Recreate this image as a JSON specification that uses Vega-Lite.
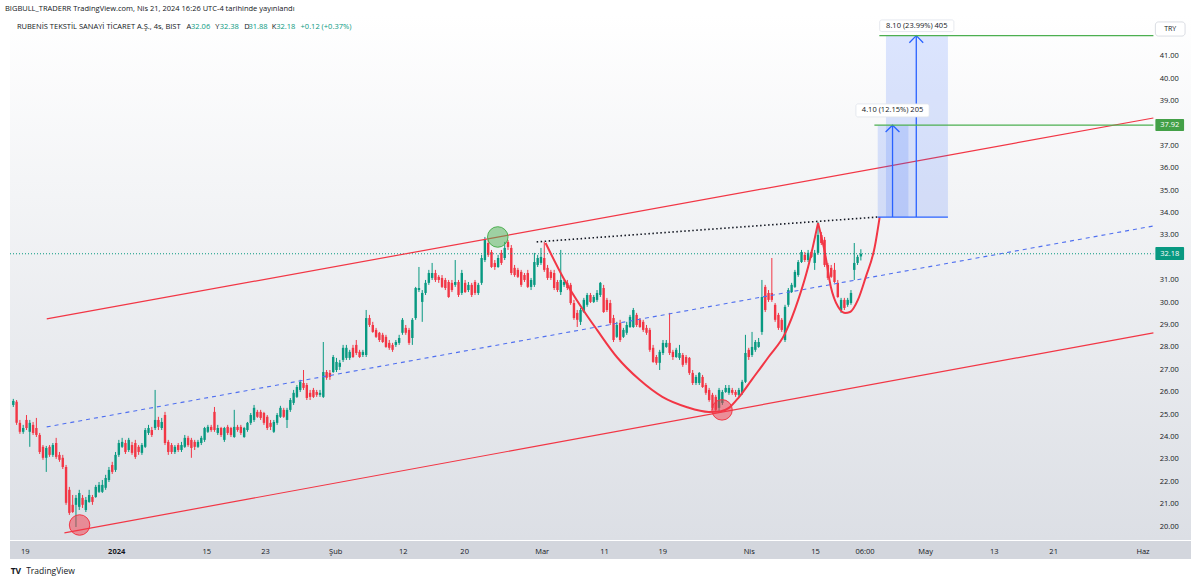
{
"$schema": "https://vega.github.io/schema/vega-lite/v6.json",
"width": 1191, "height": 525,
"autosize": {"type": "none"},
"padding": {"left": 5, "top": 15, "right": 4, "bottom": 43},
"background": "#ffffff",
"config": {
  "view": {"stroke": null},
  "font": "Open Sans",
  "axisY": {"labels": false, "ticks": false, "domain": false, "grid": false}
},
"title": {"text": "BIGBULL_TRADERR TradingView.com, Nis 21, 2024 16:26 UTC-4 tarihinde yayınlandı", "anchor": "start", "frame": "group", "fontSize": 7.5, "fontWeight": "normal", "color": "#131722", "offset": 3, "font": "Open Sans"},
"datasets": {
"one": [{}],
"yticks": [{"v":20},{"v":21},{"v":22},{"v":23},{"v":24},{"v":25},{"v":26},{"v":27},{"v":28},{"v":29},{"v":30},{"v":31},{"v":33},{"v":34},{"v":35},{"v":36},{"v":37},{"v":39},{"v":40},{"v":41}],
"candles": [
{"i":0,"o":25.43,"h":25.70,"l":25.34,"c":25.61},
{"i":1,"o":25.57,"h":25.65,"l":24.54,"c":24.63},
{"i":2,"o":24.63,"h":24.76,"l":24.14,"c":24.23},
{"i":3,"o":24.23,"h":24.54,"l":24.14,"c":24.40},
{"i":4,"o":24.76,"h":24.98,"l":24.31,"c":24.40},
{"i":5,"o":24.23,"h":24.76,"l":23.56,"c":24.63},
{"i":6,"o":24.54,"h":24.67,"l":24.09,"c":24.18},
{"i":7,"o":24.40,"h":24.85,"l":24.00,"c":24.09},
{"i":8,"o":24.09,"h":24.18,"l":23.24,"c":23.33},
{"i":9,"o":23.56,"h":23.64,"l":22.98,"c":23.07},
{"i":10,"o":23.07,"h":23.60,"l":22.44,"c":23.51},
{"i":11,"o":23.56,"h":23.64,"l":23.11,"c":23.20},
{"i":12,"o":23.20,"h":23.73,"l":23.11,"c":23.64},
{"i":13,"o":23.73,"h":23.96,"l":23.02,"c":23.11},
{"i":14,"o":23.20,"h":23.33,"l":22.89,"c":22.98},
{"i":15,"o":23.07,"h":23.20,"l":22.57,"c":22.66},
{"i":16,"o":22.66,"h":22.75,"l":20.97,"c":21.06},
{"i":17,"o":21.64,"h":21.77,"l":20.52,"c":20.61},
{"i":18,"o":20.97,"h":21.41,"l":20.61,"c":20.65},
{"i":19,"o":20.97,"h":21.41,"l":19.98,"c":21.28},
{"i":20,"o":20.88,"h":21.64,"l":20.74,"c":21.50},
{"i":21,"o":21.28,"h":21.41,"l":20.83,"c":20.97},
{"i":22,"o":20.74,"h":21.32,"l":20.65,"c":21.19},
{"i":23,"o":21.10,"h":21.64,"l":21.06,"c":21.41},
{"i":24,"o":21.32,"h":21.41,"l":20.97,"c":21.10},
{"i":25,"o":21.32,"h":21.86,"l":21.28,"c":21.77},
{"i":26,"o":21.55,"h":21.99,"l":21.50,"c":21.86},
{"i":27,"o":21.55,"h":22.08,"l":21.50,"c":21.86},
{"i":28,"o":21.73,"h":22.31,"l":21.64,"c":22.17},
{"i":29,"o":22.08,"h":22.66,"l":21.99,"c":22.53},
{"i":30,"o":22.75,"h":22.89,"l":22.35,"c":22.44},
{"i":31,"o":22.53,"h":23.33,"l":22.44,"c":23.20},
{"i":32,"o":23.20,"h":23.87,"l":23.11,"c":23.73},
{"i":33,"o":23.56,"h":23.96,"l":23.51,"c":23.78},
{"i":34,"o":23.73,"h":23.87,"l":23.24,"c":23.33},
{"i":35,"o":23.42,"h":23.96,"l":23.33,"c":23.87},
{"i":36,"o":23.64,"h":23.78,"l":23.20,"c":23.29},
{"i":37,"o":23.73,"h":23.87,"l":23.02,"c":23.11},
{"i":38,"o":23.56,"h":23.64,"l":23.20,"c":23.33},
{"i":39,"o":23.29,"h":23.73,"l":23.20,"c":23.64},
{"i":40,"o":23.56,"h":24.40,"l":23.51,"c":24.31},
{"i":41,"o":24.18,"h":24.54,"l":24.09,"c":24.40},
{"i":42,"o":24.31,"h":24.45,"l":24.00,"c":24.09},
{"i":43,"o":24.40,"h":26.10,"l":24.31,"c":24.76},
{"i":44,"o":24.76,"h":24.90,"l":24.31,"c":24.45},
{"i":45,"o":24.40,"h":24.85,"l":24.31,"c":24.67},
{"i":46,"o":24.98,"h":25.12,"l":23.64,"c":23.73},
{"i":47,"o":23.78,"h":23.87,"l":23.20,"c":23.33},
{"i":48,"o":23.64,"h":23.73,"l":23.24,"c":23.33},
{"i":49,"o":23.33,"h":23.64,"l":23.24,"c":23.56},
{"i":50,"o":23.64,"h":23.73,"l":23.33,"c":23.42},
{"i":51,"o":23.42,"h":23.78,"l":23.33,"c":23.64},
{"i":52,"o":23.56,"h":24.09,"l":23.51,"c":23.96},
{"i":53,"o":23.96,"h":24.05,"l":23.56,"c":23.64},
{"i":54,"o":23.87,"h":23.96,"l":23.07,"c":23.51},
{"i":55,"o":23.78,"h":23.87,"l":23.42,"c":23.56},
{"i":56,"o":23.56,"h":23.87,"l":23.51,"c":23.78},
{"i":57,"o":23.73,"h":24.05,"l":23.64,"c":23.96},
{"i":58,"o":23.87,"h":24.45,"l":23.78,"c":24.40},
{"i":59,"o":24.23,"h":24.54,"l":24.18,"c":24.45},
{"i":60,"o":24.45,"h":24.54,"l":24.23,"c":24.31},
{"i":61,"o":25.12,"h":25.34,"l":24.23,"c":24.31},
{"i":62,"o":24.18,"h":24.54,"l":24.09,"c":24.40},
{"i":63,"o":24.40,"h":24.45,"l":24.00,"c":24.09},
{"i":64,"o":23.87,"h":24.45,"l":23.78,"c":24.40},
{"i":65,"o":24.45,"h":24.54,"l":24.09,"c":24.18},
{"i":66,"o":24.40,"h":24.45,"l":24.00,"c":24.09},
{"i":67,"o":24.00,"h":25.21,"l":23.96,"c":24.45},
{"i":68,"o":24.45,"h":24.54,"l":24.23,"c":24.31},
{"i":69,"o":24.45,"h":24.54,"l":24.09,"c":24.18},
{"i":70,"o":24.00,"h":24.45,"l":23.96,"c":24.40},
{"i":71,"o":24.31,"h":24.67,"l":24.23,"c":24.63},
{"i":72,"o":24.63,"h":25.07,"l":24.54,"c":24.98},
{"i":73,"o":24.76,"h":25.43,"l":24.67,"c":25.30},
{"i":74,"o":25.12,"h":25.21,"l":24.85,"c":24.90},
{"i":75,"o":25.12,"h":25.21,"l":24.76,"c":24.85},
{"i":76,"o":25.07,"h":25.12,"l":24.54,"c":24.63},
{"i":77,"o":24.90,"h":24.98,"l":24.31,"c":24.40},
{"i":78,"o":24.63,"h":24.76,"l":24.31,"c":24.45},
{"i":79,"o":24.23,"h":24.76,"l":24.18,"c":24.67},
{"i":80,"o":24.63,"h":25.07,"l":24.54,"c":24.98},
{"i":81,"o":24.90,"h":25.39,"l":24.85,"c":25.30},
{"i":82,"o":25.21,"h":25.30,"l":24.85,"c":24.90},
{"i":83,"o":24.76,"h":25.30,"l":24.40,"c":25.21},
{"i":84,"o":25.21,"h":25.74,"l":25.12,"c":25.65},
{"i":85,"o":25.52,"h":26.10,"l":25.43,"c":25.97},
{"i":86,"o":25.79,"h":26.32,"l":25.74,"c":26.23},
{"i":87,"o":26.10,"h":26.55,"l":26.01,"c":26.46},
{"i":88,"o":26.41,"h":26.99,"l":26.10,"c":26.19},
{"i":89,"o":26.32,"h":26.41,"l":25.65,"c":25.74},
{"i":90,"o":25.97,"h":26.10,"l":25.65,"c":25.79},
{"i":91,"o":26.10,"h":26.19,"l":25.74,"c":25.79},
{"i":92,"o":26.01,"h":26.10,"l":25.79,"c":25.88},
{"i":93,"o":25.88,"h":26.10,"l":25.79,"c":25.97},
{"i":94,"o":25.79,"h":28.24,"l":25.74,"c":26.90},
{"i":95,"o":26.90,"h":26.99,"l":26.55,"c":26.64},
{"i":96,"o":26.86,"h":26.99,"l":26.55,"c":26.68},
{"i":97,"o":26.90,"h":27.66,"l":26.86,"c":27.57},
{"i":98,"o":26.99,"h":27.53,"l":26.90,"c":27.35},
{"i":99,"o":27.13,"h":27.44,"l":26.99,"c":27.31},
{"i":100,"o":27.44,"h":28.11,"l":27.35,"c":27.98},
{"i":101,"o":27.53,"h":28.11,"l":27.44,"c":27.98},
{"i":102,"o":27.53,"h":27.89,"l":27.44,"c":27.80},
{"i":103,"o":27.98,"h":28.11,"l":27.53,"c":27.57},
{"i":104,"o":28.11,"h":28.33,"l":27.66,"c":27.75},
{"i":105,"o":27.80,"h":27.89,"l":27.53,"c":27.57},
{"i":106,"o":27.66,"h":27.89,"l":27.57,"c":27.80},
{"i":107,"o":27.66,"h":29.67,"l":27.57,"c":29.31},
{"i":108,"o":29.31,"h":29.45,"l":28.91,"c":29.00},
{"i":109,"o":29.00,"h":29.14,"l":28.65,"c":28.69},
{"i":110,"o":28.78,"h":28.87,"l":28.42,"c":28.47},
{"i":111,"o":28.65,"h":28.69,"l":28.24,"c":28.33},
{"i":112,"o":28.56,"h":28.65,"l":28.20,"c":28.24},
{"i":113,"o":28.47,"h":28.56,"l":27.98,"c":28.02},
{"i":114,"o":28.20,"h":28.33,"l":27.89,"c":27.98},
{"i":115,"o":28.11,"h":28.20,"l":27.80,"c":27.89},
{"i":116,"o":28.11,"h":28.33,"l":28.02,"c":28.24},
{"i":117,"o":28.20,"h":28.56,"l":28.11,"c":28.42},
{"i":118,"o":28.65,"h":29.31,"l":28.56,"c":29.23},
{"i":119,"o":28.87,"h":29.00,"l":28.56,"c":28.65},
{"i":120,"o":28.78,"h":28.87,"l":28.11,"c":28.20},
{"i":121,"o":28.42,"h":29.31,"l":28.11,"c":29.23},
{"i":122,"o":29.31,"h":30.70,"l":29.23,"c":30.65},
{"i":123,"o":30.56,"h":31.59,"l":30.47,"c":30.65},
{"i":124,"o":30.03,"h":30.56,"l":29.14,"c":30.43},
{"i":125,"o":30.43,"h":31.01,"l":30.34,"c":30.88},
{"i":126,"o":30.88,"h":31.46,"l":30.79,"c":31.32},
{"i":127,"o":31.10,"h":31.77,"l":31.01,"c":31.32},
{"i":128,"o":31.32,"h":31.46,"l":30.92,"c":31.01},
{"i":129,"o":31.15,"h":31.23,"l":30.88,"c":31.01},
{"i":130,"o":31.10,"h":31.23,"l":30.65,"c":30.70},
{"i":131,"o":31.01,"h":31.10,"l":30.56,"c":30.65},
{"i":132,"o":30.92,"h":31.01,"l":30.21,"c":30.25},
{"i":133,"o":30.88,"h":31.01,"l":30.47,"c":30.56},
{"i":134,"o":30.79,"h":31.90,"l":30.70,"c":30.92},
{"i":135,"o":30.92,"h":31.01,"l":30.25,"c":30.34},
{"i":136,"o":30.43,"h":31.46,"l":30.34,"c":31.32},
{"i":137,"o":30.88,"h":31.01,"l":30.43,"c":30.47},
{"i":138,"o":30.56,"h":30.92,"l":30.47,"c":30.79},
{"i":139,"o":30.79,"h":30.88,"l":30.25,"c":30.34},
{"i":140,"o":30.92,"h":31.01,"l":30.34,"c":30.43},
{"i":141,"o":30.43,"h":30.88,"l":30.34,"c":30.79},
{"i":142,"o":30.88,"h":32.13,"l":30.79,"c":31.99},
{"i":143,"o":31.90,"h":32.93,"l":31.81,"c":32.80},
{"i":144,"o":32.66,"h":32.80,"l":32.04,"c":32.13},
{"i":145,"o":32.26,"h":32.35,"l":31.55,"c":31.59},
{"i":146,"o":31.77,"h":31.90,"l":31.46,"c":31.59},
{"i":147,"o":31.59,"h":32.13,"l":31.55,"c":31.99},
{"i":148,"o":32.22,"h":32.35,"l":31.68,"c":31.77},
{"i":149,"o":31.99,"h":32.71,"l":31.90,"c":32.44},
{"i":150,"o":32.71,"h":32.80,"l":32.35,"c":32.48},
{"i":151,"o":32.44,"h":32.57,"l":31.23,"c":31.32},
{"i":152,"o":31.55,"h":31.68,"l":31.15,"c":31.23},
{"i":153,"o":31.46,"h":31.55,"l":31.10,"c":31.15},
{"i":154,"o":31.37,"h":31.46,"l":30.70,"c":30.79},
{"i":155,"o":31.23,"h":31.32,"l":30.92,"c":31.01},
{"i":156,"o":31.32,"h":31.46,"l":30.65,"c":30.70},
{"i":157,"o":30.70,"h":31.10,"l":30.56,"c":31.01},
{"i":158,"o":30.79,"h":32.22,"l":30.70,"c":31.81},
{"i":159,"o":31.68,"h":32.13,"l":31.59,"c":31.99},
{"i":160,"o":31.77,"h":32.44,"l":31.68,"c":32.04},
{"i":161,"o":31.99,"h":32.71,"l":31.37,"c":31.46},
{"i":162,"o":31.55,"h":31.68,"l":31.01,"c":31.10},
{"i":163,"o":31.37,"h":31.46,"l":31.01,"c":31.10},
{"i":164,"o":31.32,"h":31.46,"l":30.56,"c":30.65},
{"i":165,"o":30.92,"h":31.01,"l":30.47,"c":30.56},
{"i":166,"o":30.47,"h":32.35,"l":30.34,"c":31.01},
{"i":167,"o":30.79,"h":31.01,"l":30.70,"c":30.92},
{"i":168,"o":30.88,"h":31.01,"l":30.56,"c":30.65},
{"i":169,"o":30.79,"h":30.88,"l":29.90,"c":29.98},
{"i":170,"o":29.98,"h":30.12,"l":29.23,"c":29.31},
{"i":171,"o":29.54,"h":29.67,"l":28.91,"c":29.23},
{"i":172,"o":29.14,"h":29.76,"l":29.00,"c":29.67},
{"i":173,"o":29.58,"h":30.21,"l":29.54,"c":30.12},
{"i":174,"o":29.90,"h":30.43,"l":29.81,"c":30.34},
{"i":175,"o":30.34,"h":30.43,"l":29.98,"c":30.03},
{"i":176,"o":30.03,"h":30.34,"l":29.98,"c":30.25},
{"i":177,"o":30.12,"h":30.56,"l":30.03,"c":30.43},
{"i":178,"o":30.34,"h":30.92,"l":30.25,"c":30.88},
{"i":179,"o":30.65,"h":30.79,"l":29.54,"c":29.58},
{"i":180,"o":30.12,"h":30.21,"l":29.58,"c":29.67},
{"i":181,"o":29.98,"h":30.12,"l":29.00,"c":29.09},
{"i":182,"o":29.31,"h":29.45,"l":28.24,"c":28.33},
{"i":183,"o":28.47,"h":29.14,"l":28.42,"c":29.00},
{"i":184,"o":29.09,"h":29.23,"l":28.24,"c":28.33},
{"i":185,"o":28.47,"h":28.87,"l":28.42,"c":28.78},
{"i":186,"o":28.65,"h":29.14,"l":28.56,"c":29.00},
{"i":187,"o":28.91,"h":29.45,"l":28.87,"c":29.36},
{"i":188,"o":28.91,"h":29.76,"l":28.87,"c":29.67},
{"i":189,"o":29.45,"h":29.54,"l":28.91,"c":29.00},
{"i":190,"o":29.23,"h":29.31,"l":28.87,"c":28.91},
{"i":191,"o":29.14,"h":29.23,"l":28.69,"c":28.78},
{"i":192,"o":28.87,"h":29.00,"l":28.56,"c":28.65},
{"i":193,"o":28.78,"h":28.87,"l":27.80,"c":27.89},
{"i":194,"o":27.98,"h":28.11,"l":27.31,"c":27.35},
{"i":195,"o":27.57,"h":27.66,"l":27.22,"c":27.31},
{"i":196,"o":27.31,"h":27.89,"l":26.99,"c":27.80},
{"i":197,"o":27.75,"h":28.33,"l":27.66,"c":28.20},
{"i":198,"o":28.02,"h":28.33,"l":27.98,"c":28.20},
{"i":199,"o":28.20,"h":29.54,"l":27.66,"c":27.75},
{"i":200,"o":27.80,"h":27.89,"l":27.44,"c":27.57},
{"i":201,"o":27.57,"h":27.98,"l":27.53,"c":27.89},
{"i":202,"o":27.53,"h":28.11,"l":27.44,"c":27.75},
{"i":203,"o":27.66,"h":27.75,"l":27.13,"c":27.22},
{"i":204,"o":27.57,"h":27.66,"l":27.22,"c":27.31},
{"i":205,"o":27.53,"h":27.57,"l":26.77,"c":26.86},
{"i":206,"o":26.86,"h":26.99,"l":26.32,"c":26.41},
{"i":207,"o":26.41,"h":26.77,"l":26.32,"c":26.68},
{"i":208,"o":26.41,"h":26.90,"l":26.32,"c":26.86},
{"i":209,"o":26.68,"h":26.77,"l":26.19,"c":26.23},
{"i":210,"o":26.32,"h":26.41,"l":25.88,"c":25.97},
{"i":211,"o":26.10,"h":26.19,"l":25.57,"c":25.65},
{"i":212,"o":25.88,"h":25.97,"l":25.21,"c":25.30},
{"i":213,"o":25.79,"h":25.88,"l":25.12,"c":25.21},
{"i":214,"o":25.30,"h":26.19,"l":25.07,"c":26.10},
{"i":215,"o":25.52,"h":26.10,"l":25.43,"c":26.01},
{"i":216,"o":26.01,"h":26.32,"l":25.97,"c":26.19},
{"i":217,"o":25.97,"h":26.32,"l":25.88,"c":26.19},
{"i":218,"o":26.10,"h":26.19,"l":25.88,"c":25.97},
{"i":219,"o":26.01,"h":26.10,"l":25.79,"c":25.88},
{"i":220,"o":25.88,"h":26.19,"l":25.79,"c":26.10},
{"i":221,"o":25.97,"h":26.55,"l":25.88,"c":26.46},
{"i":222,"o":26.46,"h":28.56,"l":26.41,"c":27.75},
{"i":223,"o":27.89,"h":27.98,"l":27.44,"c":27.57},
{"i":224,"o":27.66,"h":28.69,"l":27.57,"c":28.02},
{"i":225,"o":27.89,"h":28.33,"l":27.80,"c":28.24},
{"i":226,"o":28.02,"h":28.42,"l":27.98,"c":28.24},
{"i":227,"o":28.69,"h":31.01,"l":28.56,"c":30.25},
{"i":228,"o":30.70,"h":30.79,"l":29.58,"c":29.67},
{"i":229,"o":30.43,"h":30.56,"l":30.03,"c":30.12},
{"i":230,"o":30.43,"h":31.99,"l":30.03,"c":30.12},
{"i":231,"o":29.90,"h":29.98,"l":29.14,"c":29.23},
{"i":232,"o":29.45,"h":29.54,"l":28.78,"c":28.87},
{"i":233,"o":29.23,"h":29.31,"l":28.69,"c":28.78},
{"i":234,"o":28.33,"h":29.90,"l":28.24,"c":29.81},
{"i":235,"o":29.90,"h":30.65,"l":29.81,"c":30.56},
{"i":236,"o":30.47,"h":30.88,"l":30.43,"c":30.79},
{"i":237,"o":30.70,"h":31.46,"l":30.65,"c":31.37},
{"i":238,"o":31.23,"h":31.90,"l":31.15,"c":31.81},
{"i":239,"o":31.81,"h":32.35,"l":31.77,"c":32.26},
{"i":240,"o":32.13,"h":32.26,"l":31.81,"c":31.90},
{"i":241,"o":31.90,"h":32.35,"l":31.81,"c":32.22},
{"i":242,"o":32.26,"h":32.35,"l":31.99,"c":32.04},
{"i":243,"o":31.77,"h":32.35,"l":31.46,"c":32.22},
{"i":244,"o":32.22,"h":33.60,"l":32.13,"c":33.02},
{"i":245,"o":33.02,"h":33.15,"l":32.57,"c":32.66},
{"i":246,"o":32.80,"h":32.93,"l":31.59,"c":31.68},
{"i":247,"o":31.68,"h":31.77,"l":31.01,"c":31.10},
{"i":248,"o":31.55,"h":31.68,"l":31.10,"c":31.15},
{"i":249,"o":31.46,"h":31.77,"l":30.88,"c":30.92},
{"i":250,"o":30.88,"h":31.01,"l":30.21,"c":30.25},
{"i":251,"o":29.67,"h":30.21,"l":29.54,"c":30.12},
{"i":252,"o":30.12,"h":30.21,"l":29.67,"c":29.76},
{"i":253,"o":29.90,"h":30.21,"l":29.81,"c":30.12},
{"i":254,"o":29.98,"h":30.56,"l":29.90,"c":30.43},
{"i":255,"o":31.46,"h":32.66,"l":31.01,"c":31.77},
{"i":256,"o":31.77,"h":32.13,"l":31.68,"c":32.04},
{"i":257,"o":32.06,"h":32.38,"l":31.88,"c":32.18}
],
"channel": [
{"id":"u","i":10.13,"p":29.27},{"id":"u","i":345.7,"p":38.24},
{"id":"l","i":15.5,"p":19.72},{"id":"l","i":345.7,"p":28.65}
],
"mid": [{"i":10.13,"p":24.45},{"i":345.7,"p":33.42}],
"neck": [{"i":158.7,"p":32.71},{"i":262.1,"p":33.82}],
"cup": [
{"s":"c","i":161.4,"p":32.66},{"s":"c","i":166.8,"p":31.10},{"s":"c","i":172.8,"p":29.67},{"s":"c","i":177.0,"p":28.78},
{"s":"c","i":183.0,"p":27.57},{"s":"c","i":189.9,"p":26.55},{"s":"c","i":196.8,"p":25.79},{"s":"c","i":204.1,"p":25.34},
{"s":"c","i":210.9,"p":25.12},{"s":"c","i":214.3,"p":25.14},{"s":"c","i":217.0,"p":25.30},{"s":"c","i":220.0,"p":25.77},
{"s":"c","i":223.9,"p":26.55},{"s":"c","i":229.0,"p":27.57},{"s":"c","i":234.1,"p":28.65},{"s":"c","i":238.0,"p":30.12},
{"s":"c","i":241.0,"p":31.59},{"s":"c","i":244.0,"p":33.55},
{"s":"h","i":244.0,"p":33.55},{"s":"h","i":246.1,"p":32.22},{"s":"h","i":247.9,"p":30.70},{"s":"h","i":250.1,"p":29.81},
{"s":"h","i":252.2,"p":29.54},{"s":"h","i":253.7,"p":29.58},{"s":"h","i":256.1,"p":30.12},{"s":"h","i":258.5,"p":31.15},
{"s":"h","i":261.2,"p":32.48},{"s":"h","i":262.7,"p":33.82}
],
"circles": [{"k":"g","i":146.9,"p":32.93},{"k":"r","i":20.1,"p":20.07},{"k":"r","i":214.9,"p":25.21}],
"ranges": [{"i1":264.6,"i2":283.4,"p1":33.82,"p2":41.92},{"i1":262.1,"i2":271.4,"p1":33.82,"p2":37.92}],
"bluerules": [{"i1":262.1,"i2":283.4,"p1":33.82,"p2":33.82},{"i1":266.6,"i2":266.6,"p1":33.82,"p2":37.92},{"i1":273.8,"i2":273.8,"p1":33.82,"p2":41.92}],
"heads": [{"a":1,"i":264.5,"p":37.62},{"a":1,"i":266.6,"p":37.92},{"a":1,"i":268.7,"p":37.62},{"a":2,"i":271.7,"p":41.60},{"a":2,"i":273.8,"p":41.92},{"a":2,"i":275.9,"p":41.60}],
"targets": [{"i1":262.6,"i2":345.7,"p":41.92},{"i1":261.1,"i2":345.7,"p":37.92}],
"rangelabels": [{"t":"8.10 (23.99%) 405","i1":262.7,"i2":285.2,"p1":42.10,"p2":42.62,"im":273.95,"pm":42.36},{"t":"4.10 (12.15%) 205","i1":255.5,"i2":277.7,"p1":38.29,"p2":38.87,"im":266.6,"pm":38.58}],
"pricetags": [{"t":"37.92","p":37.92,"p1":37.66,"p2":38.20},{"t":"32.18","p":32.18,"p1":31.90,"p2":32.48}]
},
"layer": [
{"data": {"name": "one"}, "mark": {"type": "rect", "color": {"gradient": "linear", "x1": 0, "y1": 0, "x2": 0, "y2": 1, "stops": [{"offset": 0, "color": "#ffffff"}, {"offset": 1, "color": "#dcdfe5"}]}},
 "encoding": {"x": {"datum": -1, "type": "quantitative", "scale": {"domain": [-1, 357.1], "nice": false, "zero": false},
   "axis": {"orient": "bottom", "title": null, "zindex": 1,
     "values": [3.5,31.2,58.5,76.3,97.6,118.1,136.7,160.2,179.1,196.8,223,243.1,258.1,276.5,297.3,315.3,342.4],
     "labelExpr": "['19','2024','15','23','Şub','12','20','Mar','11','19','Nis','15','06:00','May','13','21','Haz'][indexof([3.5,31.2,58.5,76.3,97.6,118.1,136.7,160.2,179.1,196.8,223,243.1,258.1,276.5,297.3,315.3,342.4], datum.value)]",
     "ticks": false, "grid": false, "domain": false, "labelPadding": 11, "labelBaseline": "middle", "labelFontSize": 7.5, "labelColor": "#131722", "labelOverlap": false, "labelFlush": false, "labelBound": false,
     "labelFontWeight": {"condition": {"test": "datum.value == 31.2", "value": "bold"}, "value": "normal"}}},
   "x2": {"datum": 357.1},
   "y": {"datum": 19.40, "type": "quantitative", "scale": {"domain": [19.40, 42.84], "nice": false, "zero": false},
   "axis": {"orient": "right", "title": null, "labels": false, "ticks": false, "grid": false, "domain": false}},
   "y2": {"datum": 42.84}}},
{"data": {"name": "one"}, "mark": {"type": "rect", "color": "#d3d6dd"},
 "encoding": {"x": {"datum": -1, "type": "quantitative"}, "x2": {"datum": 357.1}, "y": {"datum": 19.36, "type": "quantitative"}, "y2": {"datum": 18.55}}},
{"data": {"name": "yticks"}, "mark": {"type": "text", "fontSize": 7.5, "color": "#131722", "font": "Open Sans", "align": "left", "baseline": "middle"},
 "encoding": {"x": {"datum": 347.6, "type": "quantitative"}, "y": {"field": "v", "type": "quantitative"}, "text": {"field": "v", "type": "quantitative", "format": ".2f"}}},
{"data": {"name": "candles"}, "mark": {"type": "rule", "strokeWidth": 1},
 "encoding": {"x": {"field": "i", "type": "quantitative"}, "y": {"field": "l", "type": "quantitative"}, "y2": {"field": "h"},
   "color": {"condition": {"test": "datum.c >= datum.o", "value": "#089981"}, "value": "#f23645"}}},
{"data": {"name": "candles"}, "mark": {"type": "bar", "size": 2.4},
 "encoding": {"x": {"field": "i", "type": "quantitative"}, "y": {"field": "o", "type": "quantitative"}, "y2": {"field": "c"},
   "color": {"condition": {"test": "datum.c >= datum.o", "value": "#089981"}, "value": "#f23645"}}},
{"data": {"name": "one"}, "mark": {"type": "rule", "strokeDash": [1, 2], "color": "#089981", "strokeWidth": 1},
 "encoding": {"y": {"datum": 32.18, "type": "quantitative"}, "x": {"datum": -1, "type": "quantitative"}, "x2": {"datum": 345.7}}},
{"data": {"name": "channel"}, "mark": {"type": "line", "color": "#f23645", "strokeWidth": 1.2},
 "encoding": {"x": {"field": "i", "type": "quantitative"}, "y": {"field": "p", "type": "quantitative"}, "detail": {"field": "id"}}},
{"data": {"name": "mid"}, "mark": {"type": "line", "color": "#4f6ff0", "strokeWidth": 1.1, "strokeDash": [4, 4]},
 "encoding": {"x": {"field": "i", "type": "quantitative"}, "y": {"field": "p", "type": "quantitative"}}},
{"data": {"name": "neck"}, "mark": {"type": "line", "color": "#131722", "strokeWidth": 1.6, "strokeDash": [1.5, 2.5]},
 "encoding": {"x": {"field": "i", "type": "quantitative"}, "y": {"field": "p", "type": "quantitative"}}},
{"data": {"name": "cup"}, "mark": {"type": "line", "color": "#f23645", "strokeWidth": 2, "interpolate": "monotone"},
 "encoding": {"x": {"field": "i", "type": "quantitative"}, "y": {"field": "p", "type": "quantitative"}, "detail": {"field": "s"}}},
{"data": {"name": "circles"}, "mark": {"type": "point", "filled": true, "size": 420, "fillOpacity": 0.5, "strokeOpacity": 1, "strokeWidth": 1},
 "encoding": {"x": {"field": "i", "type": "quantitative"}, "y": {"field": "p", "type": "quantitative"},
   "fill": {"condition": {"test": "datum.k == 'g'", "value": "#4caf50"}, "value": "#f23645"},
   "stroke": {"condition": {"test": "datum.k == 'g'", "value": "#4caf50"}, "value": "#f23645"}}},
{"data": {"name": "ranges"}, "mark": {"type": "rect", "color": "#2962ff", "opacity": 0.16},
 "encoding": {"x": {"field": "i1", "type": "quantitative"}, "x2": {"field": "i2"}, "y": {"field": "p1", "type": "quantitative"}, "y2": {"field": "p2"}}},
{"data": {"name": "bluerules"}, "mark": {"type": "rule", "color": "#2962ff", "strokeWidth": 1.3},
 "encoding": {"x": {"field": "i1", "type": "quantitative"}, "x2": {"field": "i2"}, "y": {"field": "p1", "type": "quantitative"}, "y2": {"field": "p2"}}},
{"data": {"name": "heads"}, "mark": {"type": "line", "color": "#2962ff", "strokeWidth": 1.3},
 "encoding": {"x": {"field": "i", "type": "quantitative"}, "y": {"field": "p", "type": "quantitative"}, "detail": {"field": "a"}}},
{"data": {"name": "targets"}, "mark": {"type": "rule", "color": "#4caf50", "strokeWidth": 1.3},
 "encoding": {"x": {"field": "i1", "type": "quantitative"}, "x2": {"field": "i2"}, "y": {"field": "p", "type": "quantitative"}}},
{"data": {"name": "rangelabels"}, "mark": {"type": "rect", "fill": "#ffffff", "stroke": "#e0e3eb", "strokeWidth": 0.8, "cornerRadius": 2},
 "encoding": {"x": {"field": "i1", "type": "quantitative"}, "x2": {"field": "i2"}, "y": {"field": "p1", "type": "quantitative"}, "y2": {"field": "p2"}}},
{"data": {"name": "rangelabels"}, "mark": {"type": "text", "fontSize": 7.5, "color": "#131722", "font": "Open Sans", "baseline": "middle"},
 "encoding": {"x": {"field": "im", "type": "quantitative"}, "y": {"field": "pm", "type": "quantitative"}, "text": {"field": "t"}}},
{"data": {"name": "pricetags"}, "mark": {"type": "rect", "cornerRadius": 1},
 "encoding": {"x": {"datum": 346.3, "type": "quantitative"}, "x2": {"datum": 355.0}, "y": {"field": "p1", "type": "quantitative"}, "y2": {"field": "p2"},
   "fill": {"condition": {"test": "datum.t == '37.92'", "value": "#43a047"}, "value": "#089981"}}},
{"data": {"name": "pricetags"}, "mark": {"type": "text", "fontSize": 7.5, "color": "#ffffff", "font": "Open Sans", "baseline": "middle"},
 "encoding": {"x": {"datum": 350.65, "type": "quantitative"}, "y": {"field": "p", "type": "quantitative"}, "text": {"field": "t"}}},
{"data": {"name": "one"}, "mark": {"type": "rect", "fill": "#ffffff", "stroke": "#d1d4dc", "strokeWidth": 0.8, "cornerRadius": 3},
 "encoding": {"x": {"datum": 346.3, "type": "quantitative"}, "x2": {"datum": 355.3}, "y": {"datum": 41.90, "type": "quantitative"}, "y2": {"datum": 42.53}}},
{"data": {"name": "one"}, "mark": {"type": "text", "fontSize": 7, "color": "#131722", "font": "Open Sans", "baseline": "middle"},
 "encoding": {"x": {"datum": 350.8, "type": "quantitative"}, "y": {"datum": 42.22, "type": "quantitative"}, "text": {"value": "TRY"}}},
{"data": {"name": "one"}, "mark": {"type": "text", "fontSize": 7.5, "color": "#131722", "font": "Open Sans", "align": "left", "baseline": "middle"},
 "encoding": {"x": {"datum": 1.1, "type": "quantitative"}, "y": {"datum": 42.30, "type": "quantitative"}, "text": {"value": "RUBENİS TEKSTİL SANAYİ TİCARET A.Ş., 4s, BIST"}}},
{"data": {"name": "one"}, "mark": {"type": "text", "fontSize": 7.5, "color": "#131722", "font": "Open Sans", "align": "left", "baseline": "middle"},
 "encoding": {"x": {"datum": 52.5, "type": "quantitative"}, "y": {"datum": 42.30, "type": "quantitative"}, "text": {"value": "A"}}},
{"data": {"name": "one"}, "mark": {"type": "text", "fontSize": 7.5, "color": "#089981", "font": "Open Sans", "align": "left", "baseline": "middle"},
 "encoding": {"x": {"datum": 53.9, "type": "quantitative"}, "y": {"datum": 42.30, "type": "quantitative"}, "text": {"value": "32.06"}}},
{"data": {"name": "one"}, "mark": {"type": "text", "fontSize": 7.5, "color": "#131722", "font": "Open Sans", "align": "left", "baseline": "middle"},
 "encoding": {"x": {"datum": 61.2, "type": "quantitative"}, "y": {"datum": 42.30, "type": "quantitative"}, "text": {"value": "Y"}}},
{"data": {"name": "one"}, "mark": {"type": "text", "fontSize": 7.5, "color": "#089981", "font": "Open Sans", "align": "left", "baseline": "middle"},
 "encoding": {"x": {"datum": 62.6, "type": "quantitative"}, "y": {"datum": 42.30, "type": "quantitative"}, "text": {"value": "32.38"}}},
{"data": {"name": "one"}, "mark": {"type": "text", "fontSize": 7.5, "color": "#131722", "font": "Open Sans", "align": "left", "baseline": "middle"},
 "encoding": {"x": {"datum": 70.0, "type": "quantitative"}, "y": {"datum": 42.30, "type": "quantitative"}, "text": {"value": "D"}}},
{"data": {"name": "one"}, "mark": {"type": "text", "fontSize": 7.5, "color": "#089981", "font": "Open Sans", "align": "left", "baseline": "middle"},
 "encoding": {"x": {"datum": 71.3, "type": "quantitative"}, "y": {"datum": 42.30, "type": "quantitative"}, "text": {"value": "31.88"}}},
{"data": {"name": "one"}, "mark": {"type": "text", "fontSize": 7.5, "color": "#131722", "font": "Open Sans", "align": "left", "baseline": "middle"},
 "encoding": {"x": {"datum": 78.4, "type": "quantitative"}, "y": {"datum": 42.30, "type": "quantitative"}, "text": {"value": "K"}}},
{"data": {"name": "one"}, "mark": {"type": "text", "fontSize": 7.5, "color": "#089981", "font": "Open Sans", "align": "left", "baseline": "middle"},
 "encoding": {"x": {"datum": 79.7, "type": "quantitative"}, "y": {"datum": 42.30, "type": "quantitative"}, "text": {"value": "32.18"}}},
{"data": {"name": "one"}, "mark": {"type": "text", "fontSize": 7.5, "color": "#089981", "font": "Open Sans", "align": "left", "baseline": "middle"},
 "encoding": {"x": {"datum": 87.1, "type": "quantitative"}, "y": {"datum": 42.30, "type": "quantitative"}, "text": {"value": "+0.12 (+0.37%)"}}},
{"data": {"name": "one"}, "mark": {"type": "text", "fontSize": 8.5, "fontWeight": "bold", "color": "#131722", "font": "Open Sans", "align": "left", "baseline": "middle"},
 "encoding": {"x": {"datum": -0.8, "type": "quantitative"}, "y": {"datum": 18.02, "type": "quantitative"}, "text": {"value": "TV"}}},
{"data": {"name": "one"}, "mark": {"type": "text", "fontSize": 8.5, "color": "#131722", "font": "Open Sans", "align": "left", "baseline": "middle"},
 "encoding": {"x": {"datum": 3.9, "type": "quantitative"}, "y": {"datum": 18.02, "type": "quantitative"}, "text": {"value": "TradingView"}}}
]
}
